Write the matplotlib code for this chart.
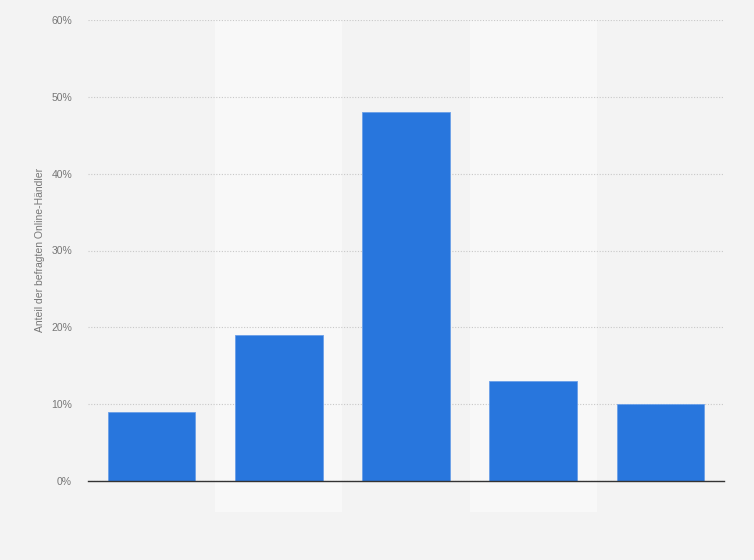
import numpy as np
import matplotlib.pyplot as plt

plt.rcParams["font.family"] = ["Liberation Sans", "DejaVu Sans"]

categories = ["A", "B", "C", "D", "E"]
values = [9, 19, 48, 13, 10]
yticks = [0, 10, 20, 30, 40, 50, 60]
ylabel = "Anteil der befragten Online-Händler"

bg = "#f3f3f3"
band = "#f8f8f8"
bar_color = "#2876dd"

fig = plt.figure(figsize=(7.54, 5.6), dpi=100, facecolor=bg)
W, H = 754, 560
ax = fig.add_axes([88 / W, 1 - 481 / H, (724 - 88) / W, (481 - 20) / H])
ax.set_facecolor(bg)

x = np.arange(len(categories))
# lighter bands behind every second column, running into the label area
for i in x:
    if i % 2 == 1:
        ax.axvspan(i - 0.5, i + 0.5, ymin=-0.067, ymax=1, color=band, zorder=0, clip_on=False, lw=0)

ax.bar(x, values, width=0.69, color=bar_color, edgecolor="#6a9fe8", linewidth=0.6, zorder=3)

ax.set_xlim(-0.5, len(categories) - 0.5)
ax.set_ylim(0, 60)
ax.set_yticks(yticks)
ax.set_yticklabels([f"{t}%" for t in yticks], fontsize=7.5, color="#777777")
ax.set_xticks([])
ax.yaxis.grid(True, linestyle=(0, (1, 1.5)), color="#c8c8c8", linewidth=0.8, zorder=1)
ax.tick_params(axis="y", length=0, pad=11.5)
for s in ["top", "right", "left"]:
    ax.spines[s].set_visible(False)
ax.spines["bottom"].set_color("#333333")
ax.spines["bottom"].set_linewidth(1)
ax.spines["bottom"].set_zorder(4)

fig.text(40 / W, 1 - 250 / H, ylabel, rotation=90, fontsize=7.5, color="#777777",
         ha="center", va="center")

fig.savefig("out.png", dpi=100, facecolor=bg)
